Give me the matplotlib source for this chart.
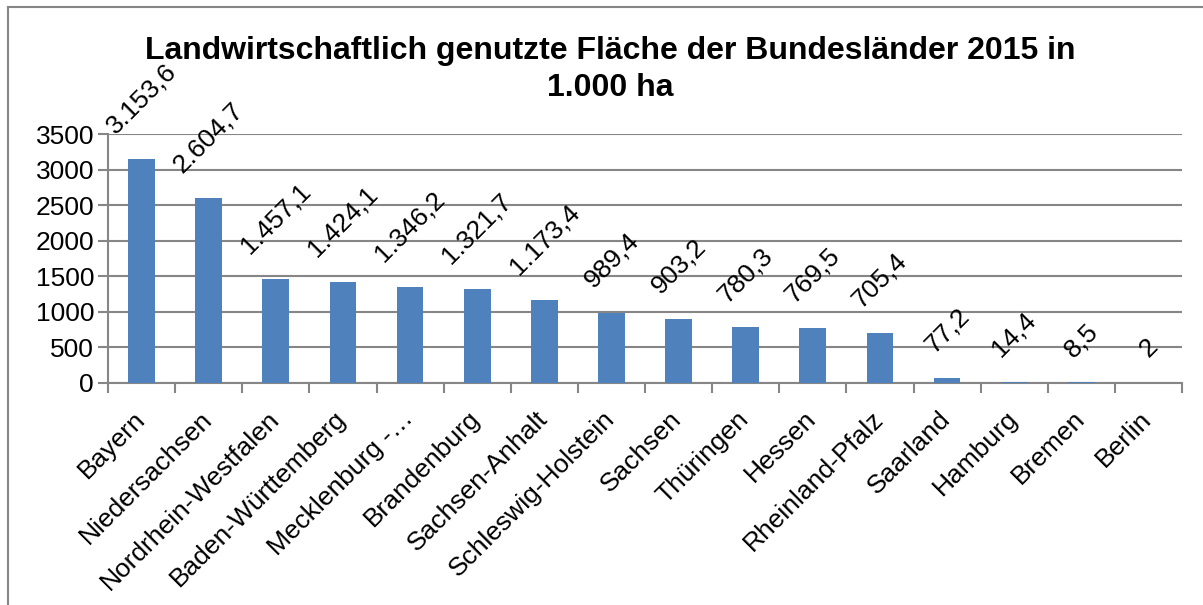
import numpy as np
import matplotlib.pyplot as plt
import matplotlib.transforms as mtransforms
from matplotlib.lines import Line2D

plt.rcParams['font.family'] = ['Liberation Sans', 'DejaVu Sans']

# ── Daten ──────────────────────────────────────────────────
laender = ['Bayern', 'Niedersachsen', 'Nordrhein-Westfalen', 'Baden-Württemberg',
           'Mecklenburg -…', 'Brandenburg', 'Sachsen-Anhalt', 'Schleswig-Holstein',
           'Sachsen', 'Thüringen', 'Hessen', 'Rheinland-Pfalz', 'Saarland',
           'Hamburg', 'Bremen', 'Berlin']
flaeche = [3153.6, 2604.7, 1457.1, 1424.1, 1346.2, 1321.7, 1173.4, 989.4,
           903.2, 780.3, 769.5, 705.4, 77.2, 14.4, 8.5, 2]
beschriftung = ['3.153,6', '2.604,7', '1.457,1', '1.424,1', '1.346,2', '1.321,7',
                '1.173,4', '989,4', '903,2', '780,3', '769,5', '705,4', '77,2',
                '14,4', '8,5', '2']
y_ticks = [0, 500, 1000, 1500, 2000, 2500, 3000, 3500]

blau = '#4F81BD'
grau = '#868686'
fs = 19

fig = plt.figure(figsize=(12.03, 6.05), dpi=100)
ax = fig.add_axes([108 / 1203, 1 - 383 / 605, (1182 - 108) / 1203, (383 - 134) / 605])

x = np.arange(len(laender))
ax.bar(x, flaeche, width=0.4, color=blau, zorder=3)

ax.set_xlim(-0.5, len(laender) - 0.5)
ax.set_ylim(0, 3500)
ax.set_yticks(y_ticks)
ax.tick_params(axis='y', labelsize=fs, length=7, width=1.5, color=grau, pad=3)
ax.yaxis.grid(True, color=grau, linewidth=1.5, zorder=0)
ax.set_axisbelow(True)

# Kategorien: Ticks an den Grenzen, Beschriftung in der Mitte
ax.set_xticks(x)
ax.set_xticklabels(laender, rotation=45, ha='right', va='top', fontsize=fs)
ax.tick_params(axis='x', length=0, pad=17)
ax.set_xticks(np.arange(len(laender) + 1) - 0.5, minor=True)
ax.tick_params(axis='x', which='minor', length=7, width=1.5, color=grau)
versatz = mtransforms.ScaledTranslation(8 / 100, 0, fig.dpi_scale_trans)
for lbl in ax.get_xticklabels():
    lbl.set_transform(lbl.get_transform() + versatz)

for s in ['top', 'right']:
    ax.spines[s].set_visible(False)
for s in ['left', 'bottom']:
    ax.spines[s].set_color(grau)
    ax.spines[s].set_linewidth(1.5)

# ── Datenbeschriftungen ───────────────────────────────────
for xi, wert, txt in zip(x, flaeche, beschriftung):
    ax.annotate(txt, (xi, wert), xytext=(0, 15), textcoords='offset points',
                rotation=45, ha='center', va='bottom', fontsize=fs, zorder=4)

fig.suptitle('Landwirtschaftlich genutzte Fläche der Bundesländer 2015 in\n1.000 ha',
             x=0.507, y=0.94, fontsize=23, fontweight='bold', linespacing=1.3)

# Rahmen (oben und links)
fig.add_artist(Line2D([8 / 1203, 8 / 1203], [0, 1 - 7 / 605], color=grau, lw=1.5))
fig.add_artist(Line2D([8 / 1203, 1], [1 - 7 / 605, 1 - 7 / 605], color=grau, lw=1.5))

plt.savefig('out.png', dpi=100)
